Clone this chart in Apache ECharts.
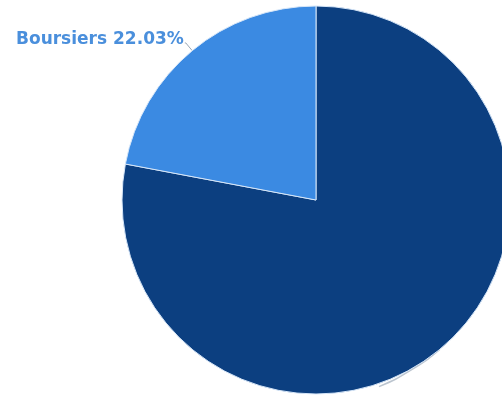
<!DOCTYPE html>
<html><head><meta charset="utf-8">
<script src="https://cdn.jsdelivr.net/npm/echarts@6/dist/echarts.min.js"></script>
<style>html,body{margin:0;padding:0;background:#fff}#c{width:502px;height:415px}</style>
</head><body><div id="c"></div>
<script>
const categories = ['Non boursiers', 'Boursiers'];
const values = [77.97, 22.03];
const colors = ['#0c3f80', '#3b8ae2'];

const CX = 316, CY = 200, R = 194;
const total = values.reduce((a, b) => a + b, 0);
// label line of the large slice runs along the rim from its mid-angle
function rimLine() {
  const mid = (values[0] / total) * 180; // degrees clockwise from top
  const end = mid + 21;
  const at = (deg, r) => {
    const a = deg * Math.PI / 180;
    return [CX + r * Math.sin(a), CY - r * Math.cos(a)];
  };
  return [at(mid, R), at((mid + end) / 2, R + 3.5), at(end, R + 3)];
}

const chart = echarts.init(document.getElementById('c'));
chart.setOption({
  animation: false,
  series: [{
    type: 'pie',
    center: [CX, CY],
    radius: [0, R],
    startAngle: 90,
    clockwise: true,
    itemStyle: { borderColor: '#d6e6f8', borderWidth: 1 },
    label: {
      show: true,
      fontFamily: 'DejaVu Sans',
      fontWeight: 'bold',
      fontSize: 17,
      color: '#4a8fdc',
      formatter: p => p.name + ' ' + p.value.toFixed(2) + '%'
    },
    labelLine: { show: true, length: 10, length2: 1, lineStyle: { color: '#9aa6b4', width: 1 } },
    labelLayout: p => {
      if (p.dataIndex === 0) {
        const pts = rimLine();
        const last = pts[pts.length - 1];
        return { x: last[0], y: last[1], align: 'right', verticalAlign: 'top', labelLinePoints: pts };
      }
      return { dx: 4, dy: -3 };
    },
    data: categories.map((c, i) => ({
      name: c, value: values[i],
      itemStyle: { color: colors[i] },
      label: i === 0 ? { formatter: '\u00a0', fontSize: 16 } : {},
      labelLine: i === 0 ? { show: true, smooth: 0.5, lineStyle: { color: '#bcc5cf', width: 1.5 } } : {}
    }))
  }]
});
</script></body></html>
